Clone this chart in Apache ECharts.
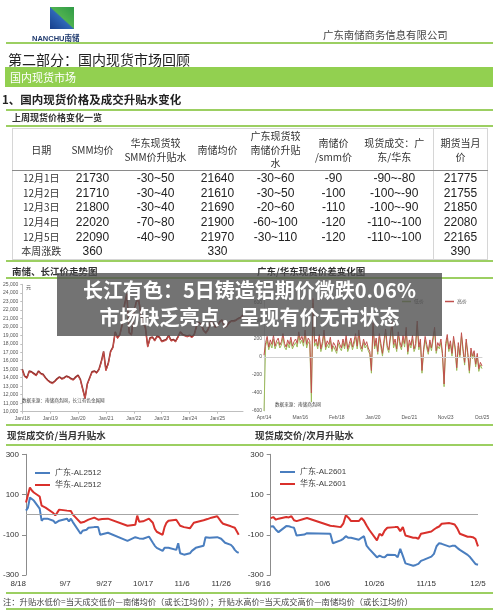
<!DOCTYPE html>
<html><head><meta charset="utf-8">
<script src="https://cdn.jsdelivr.net/npm/echarts@6/dist/echarts.min.js"></script>
<style>
html,body{margin:0;padding:0;background:#fff;}
#page{position:relative;width:500px;height:610px;overflow:hidden;font-family:"Noto Sans CJK SC","Noto Sans",sans-serif;color:#222;}
#chart{position:absolute;left:0;top:0;width:500px;height:610px;z-index:1;}
.t{position:absolute;white-space:nowrap;z-index:2;line-height:1;}
.gl{position:absolute;left:6px;width:487px;height:2px;background:#9ccf62;z-index:2;}
#logo{position:absolute;left:50px;top:7px;width:24px;height:22px;z-index:2;
 background:linear-gradient(to top right,#173f8c 0%,#2f67b8 48%,#4fb24f 52%,#2f9a46 100%);}
#bar{position:absolute;left:5px;top:67px;width:488px;height:20px;background:#92d050;z-index:2;}
#tblwrap{position:absolute;left:12px;top:128px;width:475px;z-index:2;}
table{border-collapse:collapse;table-layout:fixed;width:475px;border:1px solid #d6d6d6;}
td{padding:0;text-align:center;vertical-align:middle;white-space:nowrap;}
tr.hd td{height:41px;font-size:10px;line-height:13.5px;color:#333;border-bottom:1px solid #8a8a8a;}
tr.rw td{height:14.6px;font-family:"Liberation Sans",Arial,sans-serif;font-size:12px;color:#222;line-height:14px;}
tr.rw td.dt{font-family:"Noto Sans CJK SC",sans-serif;font-size:10px;color:#333;}
td.last{border-left:1px solid #d6d6d6;}
#banner{position:absolute;left:57px;top:273px;width:385px;height:63px;background:rgba(80,80,80,0.8);z-index:5;
 color:#fff;font-weight:bold;font-size:20px;line-height:27px;text-align:center;padding-top:3px;box-sizing:border-box;}
</style></head>
<body><div id="page">
<div id="chart"></div>
<div id="logo"></div>
<div class="t" style="left:32px;top:34px;font-family:'Liberation Sans',Arial,sans-serif;font-weight:bold;font-size:7.5px;color:#1f3a6e;">NANCHU<span style="font-family:'Noto Sans CJK SC'">南储</span></div>
<div class="t" style="left:323px;top:30px;font-size:10.4px;color:#444;">广东南储商务信息有限公司</div>
<div class="gl" style="top:42px;"></div>
<div class="t" style="left:8px;top:52px;font-size:14px;color:#222;">第二部分：国内现货市场回顾</div>
<div id="bar"></div>
<div class="t" style="left:10px;top:72px;font-size:11px;color:#fff;">国内现货市场</div>
<div class="t" style="left:2px;top:94px;font-size:11.5px;font-weight:600;color:#222;">1、国内现货价格及成交升贴水变化</div>
<div class="gl" style="top:109px;"></div>
<div class="t" style="left:12px;top:112.5px;font-size:9px;font-weight:bold;color:#333;">上周现货价格变化一览</div>
<div class="gl" style="top:125px;"></div>
<div id="tblwrap"><table id="tbl">
<colgroup><col style="width:57px"><col style="width:46px"><col style="width:80px"><col style="width:44px"><col style="width:72px"><col style="width:44px"><col style="width:78px"><col style="width:54px"></colgroup>
<tbody id="tb"></tbody></table></div>
<div class="gl" style="top:259.5px;"></div>
<div class="t" style="left:12px;top:266.5px;font-size:9.5px;font-weight:bold;color:#333;">南储、长江价走势图</div>
<div class="t" style="left:257px;top:266.5px;font-size:9.5px;font-weight:bold;color:#333;">广东/华东现货价差变化图</div>
<div class="gl" style="top:277px;"></div>
<div class="gl" style="top:424px;"></div>
<div class="t" style="left:7px;top:431px;font-size:9.5px;font-weight:bold;color:#333;">现货成交价/当月升贴水</div>
<div class="t" style="left:255px;top:430.5px;font-size:9.5px;font-weight:bold;color:#333;">现货成交价/次月升贴水</div>
<div class="gl" style="top:444px;"></div>
<div class="gl" style="top:592px;"></div>
<div class="t" style="left:3px;top:596.5px;font-size:8.3px;color:#444;">注：升贴水低价=当天成交低价—南储均价（或长江均价）；升贴水高价=当天成交高价—南储均价（或长江均价）</div>
<div class="gl" style="top:608px;"></div>
<div id="banner">长江有色：5日铸造铝期价微跌0.06%<br>市场缺乏亮点，呈现有价无市状态</div>
</div>
<script>
// ---------- table data ----------
const tblHeader = ['日期','SMM均价','华东现货较<br>SMM价升贴水','南储均价','广东现货较<br>南储价升贴<br>水','南储价<br>/smm价','现货成交：广<br>东/华东','期货当月<br>价'];
const tblDates = ['12月1日','12月2日','12月3日','12月4日','12月5日'];
const smmAvg = [21730,21710,21800,22020,22090];
const hdVsSmm = ['-30~50','-30~40','-30~40','-70~80','-40~90'];
const ncAvg = [21640,21610,21690,21900,21970];
const gdVsNc = ['-30~60','-30~50','-20~60','-60~100','-30~110'];
const ncVsSmm = [-90,-100,-110,-120,-120];
const dealGdHd = ['-90~-80','-100~-90','-100~-90','-110~-100','-110~-100'];
const futMonth = [21775,21755,21850,22080,22165];
const weekChg = ['本周涨跌','360','','330','','','','390'];

// ---------- chart 1: 南储、长江价 (monthly from Jan 2018) ----------
const priceTicks = ['Jan/18','Jan/19','Jan/20','Jan/21','Jan/22','Jan/23','Jan/24','Jan/25'];
const nanchuPrice = [
 14900,14100,13900,14700,14600,14400,14200,14700,14400,14300,13900,13600,
 13400,13300,13500,13800,14000,13800,13900,14100,14000,13800,13700,14000,
 14200,13700,12600,11500,13200,13900,14600,14700,14500,14900,15800,17000,
 14800,15600,17000,17500,19300,18600,19000,20200,22500,23800,19200,19000,
 21500,22800,23200,21500,20500,19800,17600,18600,18700,18300,18800,18700,
 18200,18300,18400,18900,18300,18400,18200,18700,19300,19000,18900,18800,
 18900,18700,19000,20000,20400,20200,19500,19200,19600,20500,20400,19900,
 20000,20500,20700,19900,20000,20400,20600,20600,20700,20900,21000,21300];
const changjiangPrice = [
 15000,14200,14000,14800,14700,14500,14300,14800,14500,14400,14000,13700,
 13500,13400,13600,13900,14100,13900,14000,14200,14100,13900,13800,14100,
 14300,13800,12700,11600,13300,14000,14700,14800,14600,15000,15900,17100,
 14900,15700,17100,17600,19400,18700,19100,20300,22600,23900,19300,19100,
 21600,22900,23300,21600,20600,19900,17700,18700,18800,18400,18900,18800,
 18300,18400,18500,19000,18400,18500,18300,18800,19400,19100,19000,18900,
 19000,18800,19100,20100,20500,20300,19600,19300,19700,20600,20500,20000,
 20100,20600,20800,20000,20100,20500,20700,20700,20800,21000,21100,21400];

// ---------- chart 2: 广东/华东价差 (monthly from Apr 2014) ----------
const spreadTicks = ['Apr/14','Mar/16','Feb/18','Jan/20','Dec/21','Nov/23','Oct/25'];
const spreadHigh = [
 20,160,230,110,190,140,240,120,180,
 210,130,170,260,150,110,190,140,220,120,170,200,
 150,280,190,230,160,300,140,210,180,-400,650,160,
 200,120,250,90,170,300,110,180,140,220,90,160,
 130,70,190,140,100,200,120,240,90,150,210,110,
 180,260,120,300,140,90,200,130,170,100,60,-150,
 380,120,210,60,260,150,40,190,310,130,80,240,
 400,140,200,90,280,170,110,240,150,330,60,190,
 130,240,90,150,400,110,200,-150,80,230,140,60,
 190,100,220,330,70,160,120,200,40,-300,150,250,
 90,180,40,230,110,-120,160,20,270,90,-60,200,
 50,-150,100,10,70,-80,40,-130,-60,-100];
const spreadLow = [
 -600,120,190,80,150,100,200,90,140,
 170,100,130,220,110,80,150,100,180,90,130,160,
 110,240,150,190,120,260,100,170,140,-500,600,120,
 160,90,210,60,130,260,80,140,100,180,60,120,
 100,40,150,100,70,160,90,200,60,110,170,80,
 140,220,90,260,100,60,160,100,130,70,30,-180,
 340,90,170,30,220,110,10,150,270,100,50,200,
 360,100,160,60,240,130,80,200,110,290,30,150,
 100,200,60,110,360,80,160,-180,50,190,100,30,
 150,70,180,290,40,120,90,160,10,-330,110,210,
 60,140,10,190,80,-150,120,-10,230,60,-90,160,
 20,-180,60,-20,40,-110,10,-160,-90,-130];

// ---------- chart 3 & 4: 升贴水 (trading days) ----------
const tradeDates = [
 '2025-08-18','2025-08-19','2025-08-20','2025-08-21','2025-08-22',
 '2025-08-25','2025-08-26','2025-08-27','2025-08-28','2025-08-29',
 '2025-09-01','2025-09-02','2025-09-03','2025-09-04','2025-09-05',
 '2025-09-08','2025-09-09','2025-09-10','2025-09-11','2025-09-12',
 '2025-09-15','2025-09-16','2025-09-17','2025-09-18','2025-09-19',
 '2025-09-22','2025-09-23','2025-09-24','2025-09-25','2025-09-26',
 '2025-09-29','2025-09-30',
 '2025-10-09','2025-10-10',
 '2025-10-13','2025-10-14','2025-10-15','2025-10-16','2025-10-17',
 '2025-10-20','2025-10-21','2025-10-22','2025-10-23','2025-10-24',
 '2025-10-27','2025-10-28','2025-10-29','2025-10-30','2025-10-31',
 '2025-11-03','2025-11-04','2025-11-05','2025-11-06','2025-11-07',
 '2025-11-10','2025-11-11','2025-11-12','2025-11-13','2025-11-14',
 '2025-11-17','2025-11-18','2025-11-19','2025-11-20','2025-11-21',
 '2025-11-24','2025-11-25','2025-11-26','2025-11-27','2025-11-28',
 '2025-12-01','2025-12-02','2025-12-03','2025-12-04','2025-12-05'];
const curStart = '2025-08-18', curEnd = '2025-12-05';
const curTicks = ['8/18','9/7','9/27','10/17','11/6','11/26'];
const gdCur = [20,35,85,80,70, 30,-30,-20,-20,-20, -30,-42,-35,-30,-25, -20,-34,-20,-37,-45,
 -95,-80,-82,-75,-65, -62,-62,-62,-100,-100, -90,-88, -130,-125, -112,-104,-118,-120,-120,
 -109,-118,-140,-155,-165, -180,-165,-162,-165,-168, -175,-142,-192,-195,-199,
 -192,-180,-172,-165,-160, -155,-112,-112,-115,-115, -112,-115,-120,-130,-140, -150,-160,-175,-185,-190];
const hdCur = [60,65,135,120,110, 90,45,40,35,30, 8,-4,10,25,25, 20,25,18,0,-10,
 -40,-45,-35,-30,-25, -15,-12,-25,-25,-22, -20,-25, -55,-55, -50,-5,-35,-30,-33,
 -20,-30,-40,-70,-85, -100,-62,-40,-30,-35, -25,-25,-55,-60,-62,
 -68,-65,-40,-35,-35, -28,-28,-22,-20,-15, -8,-10,-35,-45,-50, -58,-55,-65,-70,-100];
const nextStart = '2025-09-16', nextEnd = '2025-12-05';
const nextTicks = ['9/16','10/6','10/26','11/15','12/5'];
const gdNext = [-59,-58,-75,-87, -57,-58,-62,-65,-104, -99,-92, -95,-142,
 -128,-120,-107,-115,-115, -125,-115,-107,-154,-170, -212,-204,-210,-212,-199,
 -200,-212,-170,-205,-242, -254,-250,-245,-230,-225, -209,-195,-157,-142,-145,
 -159,-155,-154,-165,-175, -200,-212,-229,-245,-249];
const hdNext = [-17,-12,-25,-20, -12,-14,-8,-28,-32, -20,-17, -55,-57,
 -62,-45,-3,-15,-32, -32,-17,-30,-54,-75, -128,-95,-104,-79,-65,
 -62,-62,-82,-62,-104, -115,-115,-120,-95,-92, -84,-74,-65,-59,-45,
 -42,-45,-49,-68,-95, -110,-110,-112,-120,-158];

// ---------- build table ----------
(function(){
  const tb = document.getElementById('tb');
  let h = '<tr class="hd">' + tblHeader.map((c,i)=>'<td'+(i===7?' class="last"':'')+'>'+c+'</td>').join('') + '</tr>';
  for (let i=0;i<tblDates.length;i++){
    const cells = [tblDates[i],smmAvg[i],hdVsSmm[i],ncAvg[i],gdVsNc[i],ncVsSmm[i],dealGdHd[i],futMonth[i]];
    h += '<tr class="rw">' + cells.map((c,j)=>'<td class="'+(j===0?'dt':'')+(j===7?' last':'')+'">'+c+'</td>').join('') + '</tr>';
  }
  h += '<tr class="rw">' + weekChg.map((c,j)=>'<td class="'+(j===0?'dt':'')+(j===7?' last':'')+'">'+c+'</td>').join('') + '</tr>';
  tb.innerHTML = h;
})();

// ---------- chart ----------
const DAY = 86400000;
const dayOff = (d, s) => Math.round((Date.parse(d) - Date.parse(s)) / DAY);
const curPairs = (arr) => tradeDates.map((d,i)=>[dayOff(d,curStart), arr[i]]);
const nextDates = tradeDates.filter(d => d >= nextStart);
const nextPairs = (arr) => nextDates.map((d,i)=>[dayOff(d,nextStart), arr[i]]);
const curMax = dayOff(curEnd, curStart), nextMax = dayOff(nextEnd, nextStart);

const FONT = '"Liberation Sans","Noto Sans CJK SC",sans-serif';
const tinyAxis = (color) => ({fontSize:5, color:color, fontFamily:FONT});
const yTicks = [-300,-100,100,300];

const chart = echarts.init(document.getElementById('chart'), null, {renderer:'canvas'});
chart.setOption({
  animation:false,
  textStyle:{fontFamily:FONT},
  grid:[
    {left:22, top:284.3, width:221, height:127.4},
    {left:264, top:285, width:218, height:126},
    {left:24, top:454.3, width:214.7, height:120.7},
    {left:270.7, top:454.3, width:207.3, height:120.7}
  ],
  xAxis:[
    {type:'value', gridIndex:0, min:0, max:nanchuPrice.length-1,
     axisLine:{lineStyle:{color:'#bfbfbf'}}, axisTick:{show:true, length:2, lineStyle:{color:'#bfbfbf'}, customValues:priceTicks.map((t,i)=>i*12)},
     splitLine:{show:false},
     axisLabel:{...tinyAxis('#555'), margin:4, customValues:priceTicks.map((t,i)=>i*12), formatter:v=>priceTicks[v/12]||''}},
    {type:'value', gridIndex:1, min:0, max:spreadHigh.length-1,
     axisLine:{lineStyle:{color:'#d0d0d0'}}, axisTick:{show:false},
     splitLine:{show:false},
     axisLabel:{...tinyAxis('#555'), margin:4, customValues:spreadTicks.map((t,i)=>i*23), formatter:v=>spreadTicks[v/23]||''}},
    {type:'value', gridIndex:2, min:0, max:curMax,
     axisLine:{show:false}, axisTick:{show:false}, splitLine:{show:false},
     axisLabel:{fontSize:8, color:'#333', margin:5, alignMinLabel:'right', customValues:curTicks.map((t,i)=>i*20), formatter:v=>curTicks[v/20]||''}},
    {type:'value', gridIndex:3, min:0, max:nextMax,
     axisLine:{show:false}, axisTick:{show:false}, splitLine:{show:false},
     axisLabel:{fontSize:8, color:'#333', margin:5, alignMinLabel:'right', customValues:nextTicks.map((t,i)=>i*20), formatter:v=>nextTicks[v/20]||''}}
  ],
  yAxis:[
    {type:'value', gridIndex:0, min:10000, max:25000, interval:1000,
     axisLine:{show:true, lineStyle:{color:'#bfbfbf'}}, axisTick:{show:true, length:2, lineStyle:{color:'#bfbfbf'}},
     splitLine:{show:false}, axisLabel:{...tinyAxis('#555'), margin:4}},
    {type:'value', gridIndex:1, min:-600, max:800, interval:200,
     axisLine:{show:true, lineStyle:{color:'#d0d0d0'}}, axisTick:{show:false},
     splitLine:{show:false}, axisLabel:{...tinyAxis('#555'), margin:2, formatter:v=>v>=800?'':v}},
    {type:'value', gridIndex:2, min:-300, max:300,
     axisLine:{show:true, lineStyle:{color:'#8c8c8c'}},
     axisTick:{show:true, inside:false, length:4, lineStyle:{color:'#8c8c8c'}, customValues:yTicks},
     splitLine:{show:false},
     axisLabel:{fontSize:8, color:'#333', margin:7, customValues:yTicks}},
    {type:'value', gridIndex:3, min:-300, max:300,
     axisLine:{show:true, lineStyle:{color:'#8c8c8c'}},
     axisTick:{show:true, inside:false, length:4, lineStyle:{color:'#8c8c8c'}, customValues:yTicks},
     splitLine:{show:false},
     axisLabel:{fontSize:8, color:'#333', margin:7, customValues:yTicks}}
  ],
  legend:[
    {data:['低价','高价'], left:397, top:294, itemWidth:9, itemHeight:1.5, itemGap:21, icon:'rect',
     textStyle:{fontSize:5, color:'#555', padding:[0,0,0,-2]}},
    {data:['广东-AL2512','华东-AL2512'], left:30, top:463, orient:'vertical', itemWidth:15, itemHeight:2, itemGap:2, icon:'rect',
     textStyle:{fontSize:8, lineHeight:10, color:'#404040'}},
    {data:['广东-AL2601','华东-AL2601'], left:275, top:462, orient:'vertical', itemWidth:15, itemHeight:2, itemGap:2, icon:'rect',
     textStyle:{fontSize:8, lineHeight:10, color:'#404040'}}
  ],
  graphic:[
    {type:'text', left:26, top:285, z:10, style:{text:'元', fontSize:5, fill:'#555', fontFamily:'Noto Sans CJK SC'}},
    {type:'text', left:22, top:398, z:10, style:{text:'数据来源：南储商务网，长江有色金属网', fontSize:4.6, fill:'#444', fontFamily:'Noto Sans CJK SC'}},
    {type:'text', left:275, top:401.5, z:10, style:{text:'数据来源：南储商务网', fontSize:4.6, fill:'#444', fontFamily:'Noto Sans CJK SC'}}
  ],
  series:[
    {name:'长江', type:'line', xAxisIndex:0, yAxisIndex:0, symbol:'none', lineStyle:{width:1.6, color:'#8e2f2c'}, itemStyle:{color:'#8e2f2c'},
     data:changjiangPrice.map((v,i)=>[i,v])},
    {name:'南储', type:'line', xAxisIndex:0, yAxisIndex:0, symbol:'none', lineStyle:{width:1, color:'#c8504b'}, itemStyle:{color:'#c8504b'},
     data:nanchuPrice.map((v,i)=>[i,v])},
    {name:'低价', type:'line', xAxisIndex:1, yAxisIndex:1, symbol:'none', lineStyle:{width:1, color:'#9bbb59'}, itemStyle:{color:'#9bbb59'},
     data:spreadLow.map((v,i)=>[i,v]),
     markLine:{silent:true, symbol:'none', label:{show:false}, lineStyle:{color:'#d0d0d0', width:1, type:'solid'}, data:[{yAxis:0}]}},
    {name:'高价', type:'line', xAxisIndex:1, yAxisIndex:1, symbol:'none', lineStyle:{width:1, color:'#c0504d'}, itemStyle:{color:'#c0504d'},
     data:spreadHigh.map((v,i)=>[i,v])},
    {name:'广东-AL2512', type:'line', xAxisIndex:2, yAxisIndex:2, symbol:'none', lineStyle:{width:2, color:'#4a7ebf'}, itemStyle:{color:'#4a7ebf'},
     data:curPairs(gdCur),
     markLine:{silent:true, symbol:'none', label:{show:false}, lineStyle:{color:'#a6a6a6', width:1, type:'solid'}, data:[{yAxis:0}]}},
    {name:'华东-AL2512', type:'line', xAxisIndex:2, yAxisIndex:2, symbol:'none', lineStyle:{width:2, color:'#d9302b'}, itemStyle:{color:'#d9302b'},
     data:curPairs(hdCur)},
    {name:'广东-AL2601', type:'line', xAxisIndex:3, yAxisIndex:3, symbol:'none', lineStyle:{width:2, color:'#4a7ebf'}, itemStyle:{color:'#4a7ebf'},
     data:nextPairs(gdNext),
     markLine:{silent:true, symbol:'none', label:{show:false}, lineStyle:{color:'#a6a6a6', width:1, type:'solid'}, data:[{yAxis:0}]}},
    {name:'华东-AL2601', type:'line', xAxisIndex:3, yAxisIndex:3, symbol:'none', lineStyle:{width:2, color:'#d9302b'}, itemStyle:{color:'#d9302b'},
     data:nextPairs(hdNext)}
  ]
});
</script>
</body></html>
